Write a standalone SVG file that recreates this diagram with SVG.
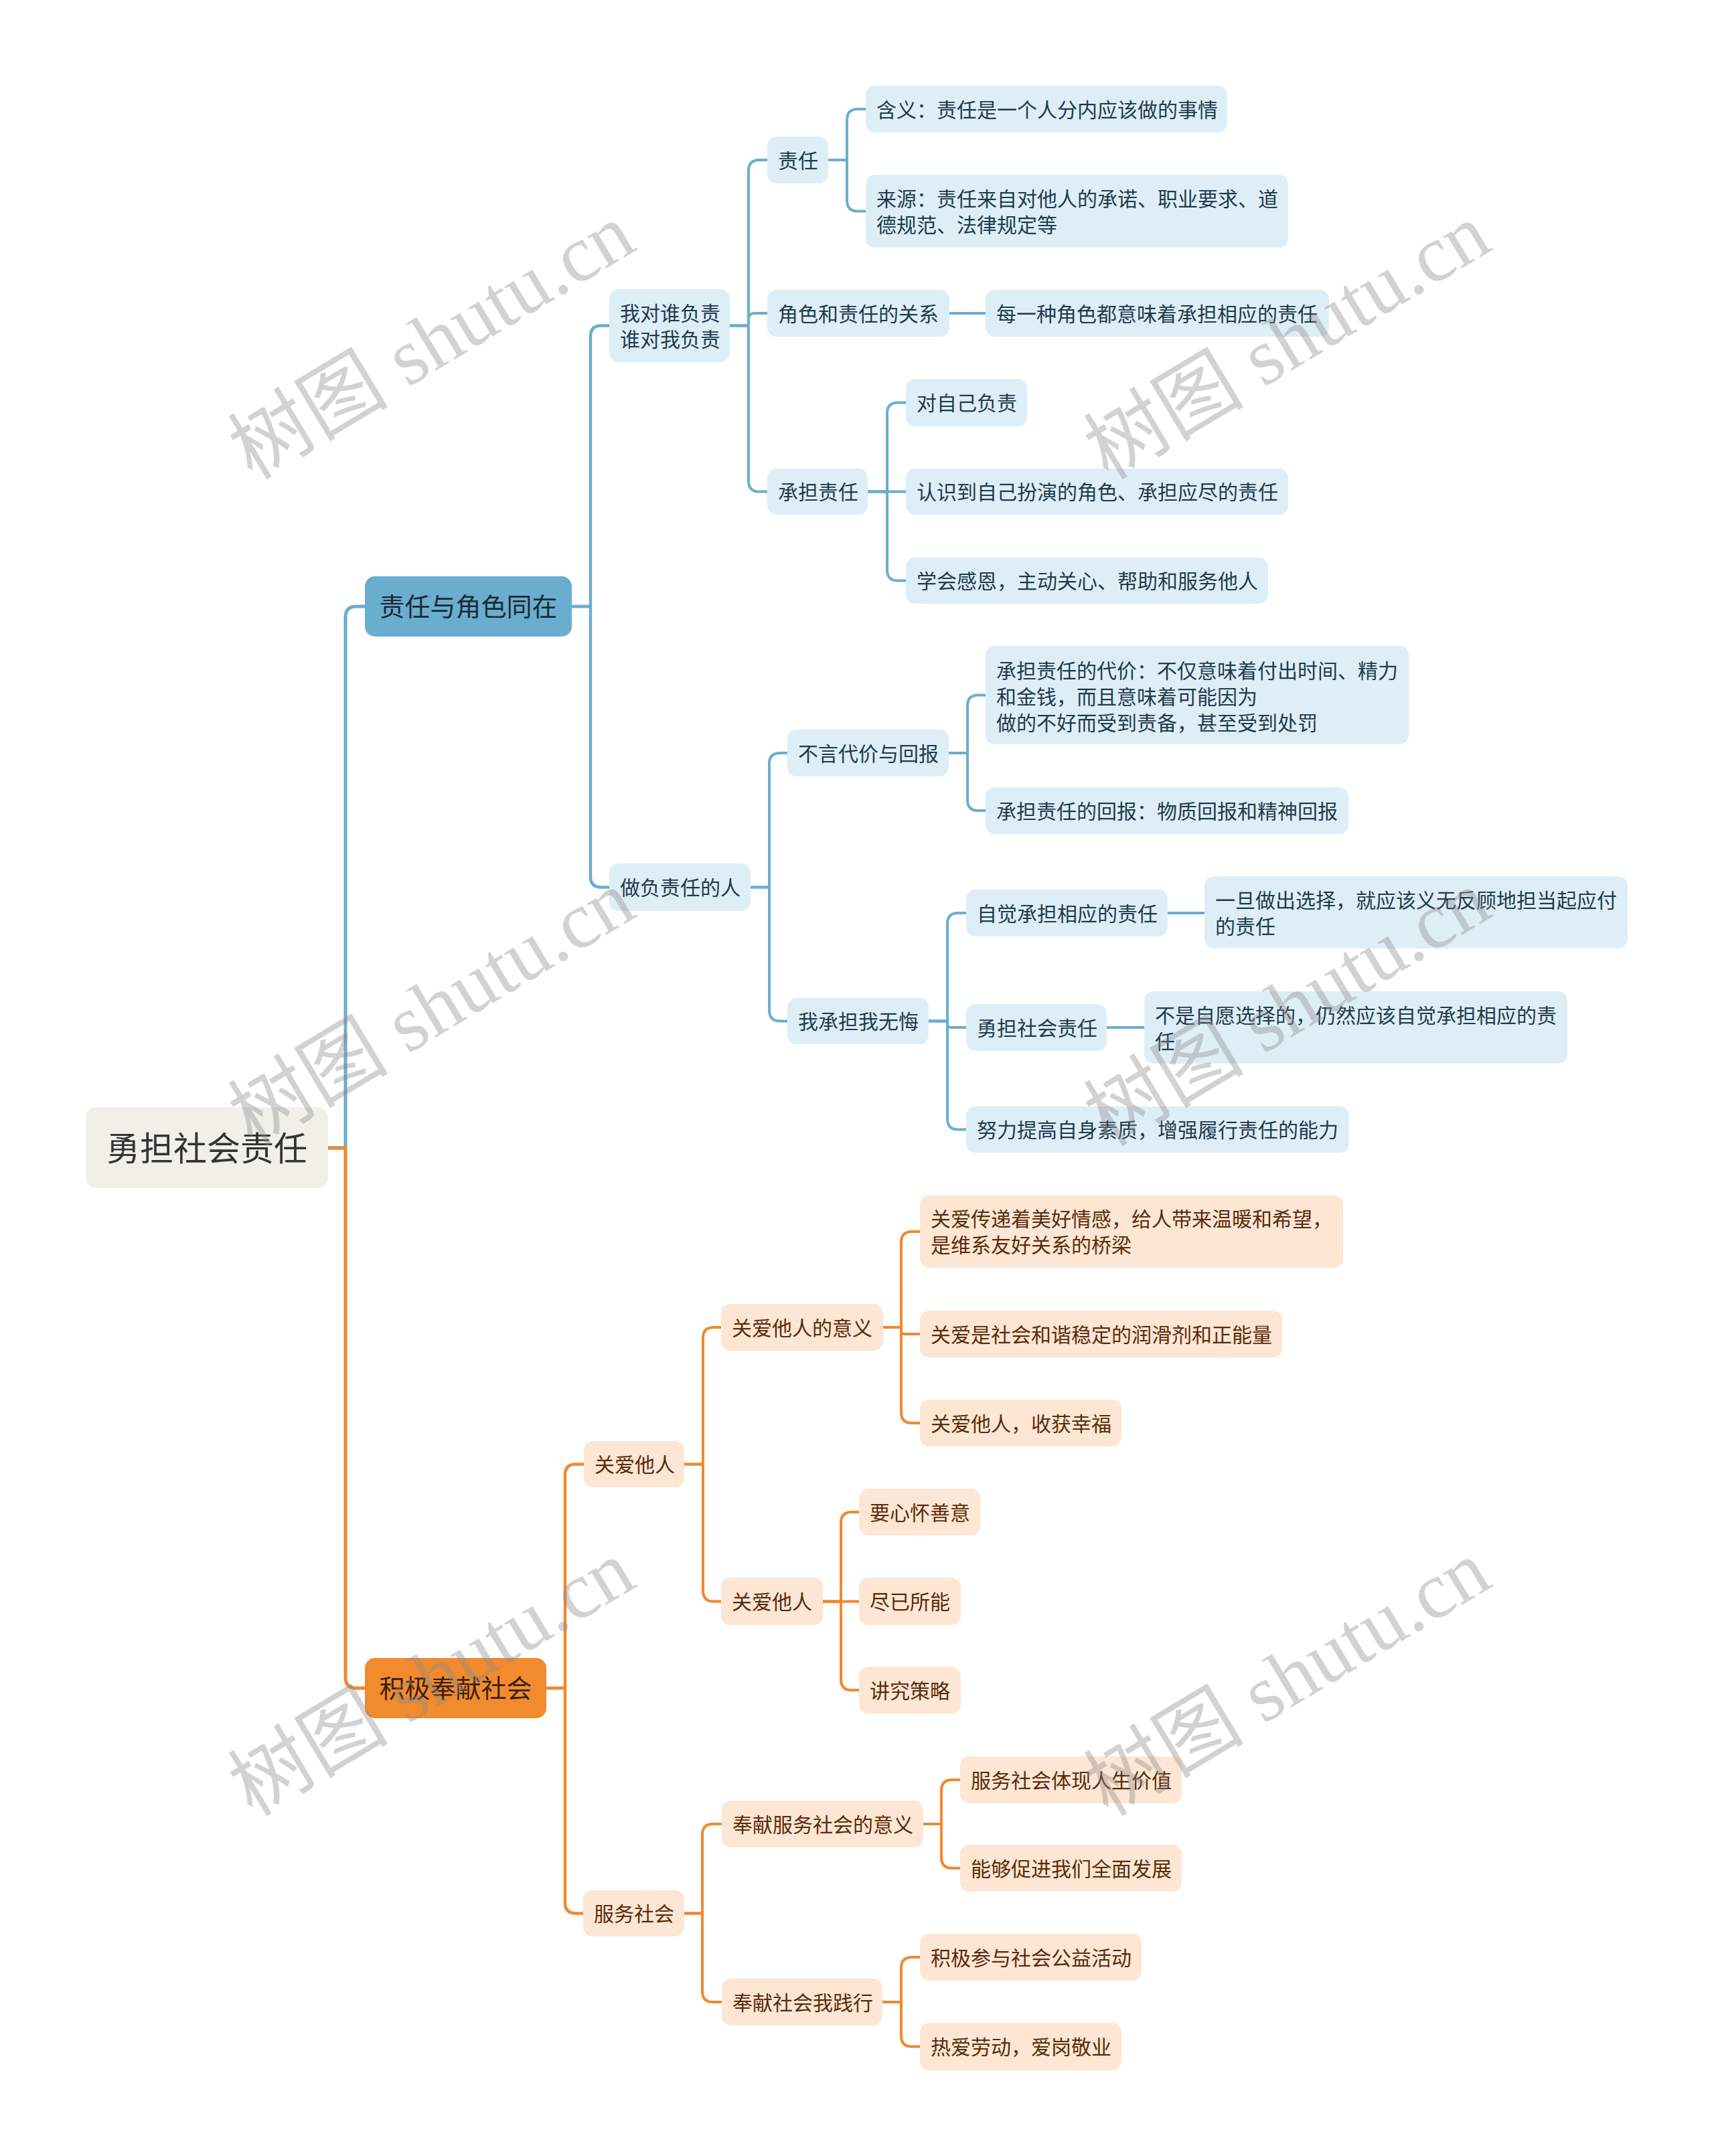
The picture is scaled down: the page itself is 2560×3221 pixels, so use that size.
<svg xmlns="http://www.w3.org/2000/svg" width="2560" height="3221" viewBox="0 0 2560 3221">
<style>
text{font-family:"Noto Sans CJK SC","Noto Sans",sans-serif;}
.b{fill:none;stroke:#6aaecf;stroke-width:4;stroke-linecap:round;stroke-linejoin:round;}
.o{fill:none;stroke:#f0892d;stroke-width:4;stroke-linecap:round;stroke-linejoin:round;}
.w5{stroke-width:5;}
.w45{stroke-width:4.5;}
.nb rect{fill:#deeef7;}
.nb text{fill:#1e3b4c;font-size:30px;}
.no rect{fill:#fde6d4;}
.no text{fill:#5a2b0b;font-size:30px;}
.l1b rect{fill:#6aaecf;}
.l1b text{fill:#1b2a33;font-size:38px;}
.l1o rect{fill:#f28b2e;}
.l1o text{fill:#3a200c;font-size:38px;}
.root rect{fill:#f0f0e8;}
.root text{fill:#333333;font-size:50px;}
.wm text{font-family:"Liberation Serif","Noto Sans CJK SC",serif;font-size:120px;fill:#8a8a8a;opacity:0.38;}
</style>
<rect width="2560" height="3221" fill="#ffffff"/>
<g id="connectors">
<path class="b w5" d="M490 1715 H516 V922 Q516 906 532 906 H545"/>
<path class="o w5" d="M490 1715 H516 V2506 Q516 2522 532 2522 H545"/>
<path class="b w45" d="M854 906 H882 V502.5 Q882 486.5 898 486.5 H910"/>
<path class="b w45" d="M854 906 H882 V1309.5 Q882 1325.5 898 1325.5 H910"/>
<path class="b" d="M1090 486.5 H1118 V255 Q1118 239 1134 239 H1146"/>
<path class="b" d="M1090 486.5 H1118 V477 Q1118 468 1127 468 H1146"/>
<path class="b" d="M1090 486.5 H1118 V718.5 Q1118 734.5 1134 734.5 H1146"/>
<path class="b" d="M1237 239 H1265 V179 Q1265 163 1281 163 H1293"/>
<path class="b" d="M1237 239 H1265 V299.5 Q1265 315.5 1281 315.5 H1293"/>
<path class="b" d="M1418 468 H1472"/>
<path class="b" d="M1296 734.5 H1325 V617.5 Q1325 601.5 1341 601.5 H1353"/>
<path class="b" d="M1296 734.5 H1353"/>
<path class="b" d="M1296 734.5 H1325 V851.5 Q1325 867.5 1341 867.5 H1353"/>
<path class="b" d="M1121 1325.5 H1149 V1141 Q1149 1125 1165 1125 H1176"/>
<path class="b" d="M1121 1325.5 H1149 V1509.5 Q1149 1525.5 1165 1525.5 H1176"/>
<path class="b" d="M1417 1125 H1445 V1054.5 Q1445 1038.5 1461 1038.5 H1472"/>
<path class="b" d="M1417 1125 H1445 V1195 Q1445 1211 1461 1211 H1472"/>
<path class="b" d="M1387 1525.5 H1415 V1380 Q1415 1364 1431 1364 H1443"/>
<path class="b" d="M1387 1525.5 H1415 V1530 Q1415 1535 1420 1535 H1443"/>
<path class="b" d="M1387 1525.5 H1415 V1671.5 Q1415 1687.5 1431 1687.5 H1443"/>
<path class="b" d="M1744 1364 H1799"/>
<path class="b" d="M1653 1535 H1709"/>
<path class="o w45" d="M816 2522 H844 V2203.5 Q844 2187.5 860 2187.5 H872"/>
<path class="o w45" d="M816 2522 H844 V2842.5 Q844 2858.5 860 2858.5 H871"/>
<path class="o" d="M1022 2187.5 H1050 V1999 Q1050 1983 1066 1983 H1077"/>
<path class="o" d="M1022 2187.5 H1050 V2376.5 Q1050 2392.5 1066 2392.5 H1077"/>
<path class="o" d="M1319 1983 H1346 V1856 Q1346 1840 1362 1840 H1374"/>
<path class="o" d="M1319 1983 H1346 V1988 Q1346 1993 1351 1993 H1374"/>
<path class="o" d="M1319 1983 H1346 V2110 Q1346 2126 1362 2126 H1374"/>
<path class="o" d="M1229 2392.5 H1256 V2275 Q1256 2259 1272 2259 H1283"/>
<path class="o" d="M1229 2392.5 H1283"/>
<path class="o" d="M1229 2392.5 H1256 V2509 Q1256 2525 1272 2525 H1283"/>
<path class="o" d="M1022 2858.5 H1049 V2741 Q1049 2725 1065 2725 H1078"/>
<path class="o" d="M1022 2858.5 H1049 V2975 Q1049 2991 1065 2991 H1078"/>
<path class="o" d="M1379 2725 H1406 V2675 Q1406 2659 1422 2659 H1434"/>
<path class="o" d="M1379 2725 H1406 V2775 Q1406 2791 1422 2791 H1434"/>
<path class="o" d="M1318 2991 H1346 V2940 Q1346 2924 1362 2924 H1374"/>
<path class="o" d="M1318 2991 H1346 V3041.5 Q1346 3057.5 1362 3057.5 H1374"/>
</g>
<g id="root" class="root"><rect x="128" y="1654" width="362" height="121" rx="16"/><text x="309" y="1734" text-anchor="middle">勇担社会责任</text></g>
<g id="n-zrjs" class="l1b"><rect x="545" y="861" width="309" height="90" rx="15"/><text x="699.5" y="920" text-anchor="middle">责任与角色同在</text></g>
<g id="n-jjfx" class="l1o"><rect x="545" y="2477" width="271" height="90" rx="15"/><text x="680.5" y="2536" text-anchor="middle">积极奉献社会</text></g>
<g id="n-wdsfz" class="nb"><rect x="910" y="432" width="180" height="109" rx="14"/><text x="926" y="478.5">我对谁负责</text><text x="926" y="517.5">谁对我负责</text></g>
<g id="n-zfzr" class="nb"><rect x="910" y="1290" width="211" height="71" rx="14"/><text x="926" y="1337">做负责任的人</text></g>
<g id="n-zr" class="nb"><rect x="1146" y="204" width="91" height="70" rx="14"/><text x="1162" y="250.5">责任</text></g>
<g id="n-hy" class="nb"><rect x="1293" y="128" width="540" height="70" rx="14"/><text x="1309" y="174.5">含义：责任是一个人分内应该做的事情</text></g>
<g id="n-ly" class="nb"><rect x="1293" y="261" width="631" height="109" rx="14"/><text x="1309" y="308">来源：责任来自对他人的承诺、职业要求、道</text><text x="1309" y="347">德规范、法律规定等</text></g>
<g id="n-jszr" class="nb"><rect x="1146" y="433" width="272" height="70" rx="14"/><text x="1162" y="479.5">角色和责任的关系</text></g>
<g id="n-myz" class="nb"><rect x="1472" y="433" width="513" height="70" rx="14"/><text x="1488" y="479.5">每一种角色都意味着承担相应的责任</text></g>
<g id="n-cdzr" class="nb"><rect x="1146" y="700" width="150" height="69" rx="14"/><text x="1162" y="746">承担责任</text></g>
<g id="n-dzj" class="nb"><rect x="1353" y="566" width="181" height="71" rx="14"/><text x="1369" y="613">对自己负责</text></g>
<g id="n-rsd" class="nb"><rect x="1353" y="700" width="571" height="69" rx="14"/><text x="1369" y="746">认识到自己扮演的角色、承担应尽的责任</text></g>
<g id="n-xhge" class="nb"><rect x="1353" y="833" width="541" height="69" rx="14"/><text x="1369" y="879">学会感恩，主动关心、帮助和服务他人</text></g>
<g id="n-bydj" class="nb"><rect x="1176" y="1090" width="241" height="70" rx="14"/><text x="1192" y="1136.5">不言代价与回报</text></g>
<g id="n-dj" class="nb"><rect x="1472" y="965" width="632" height="147" rx="14"/><text x="1488" y="1013">承担责任的代价：不仅意味着付出时间、精力</text><text x="1488" y="1052">和金钱，而且意味着可能因为</text><text x="1488" y="1091">做的不好而受到责备，甚至受到处罚</text></g>
<g id="n-hb" class="nb"><rect x="1472" y="1176" width="542" height="70" rx="14"/><text x="1488" y="1222.5">承担责任的回报：物质回报和精神回报</text></g>
<g id="n-wcd" class="nb"><rect x="1176" y="1491" width="211" height="69" rx="14"/><text x="1192" y="1537">我承担我无悔</text></g>
<g id="n-zj" class="nb"><rect x="1443" y="1329" width="301" height="70" rx="14"/><text x="1459" y="1375.5">自觉承担相应的责任</text></g>
<g id="n-ydxz" class="nb"><rect x="1799" y="1309" width="632" height="108" rx="14"/><text x="1815" y="1356">一旦做出选择，就应该义无反顾地担当起应付</text><text x="1815" y="1395">的责任</text></g>
<g id="n-ydsh" class="nb"><rect x="1443" y="1500" width="210" height="70" rx="14"/><text x="1459" y="1546.5">勇担社会责任</text></g>
<g id="n-bszy" class="nb"><rect x="1709" y="1481" width="632" height="108" rx="14"/><text x="1725" y="1528">不是自愿选择的，仍然应该自觉承担相应的责</text><text x="1725" y="1567">任</text></g>
<g id="n-nltg" class="nb"><rect x="1443" y="1653" width="572" height="69" rx="14"/><text x="1459" y="1699">努力提高自身素质，增强履行责任的能力</text></g>
<g id="n-gatr" class="no"><rect x="872" y="2153" width="150" height="69" rx="14"/><text x="888" y="2199">关爱他人</text></g>
<g id="n-fwsh" class="no"><rect x="871" y="2824" width="151" height="69" rx="14"/><text x="887" y="2870">服务社会</text></g>
<g id="n-gayy" class="no"><rect x="1077" y="1948" width="242" height="70" rx="14"/><text x="1093" y="1994.5">关爱他人的意义</text></g>
<g id="n-gacd" class="no"><rect x="1374" y="1786" width="632" height="108" rx="14"/><text x="1390" y="1832">关爱传递着美好情感，给人带来温暖和希望，</text><text x="1390" y="1871">是维系友好关系的桥梁</text></g>
<g id="n-gash" class="no"><rect x="1374" y="1958" width="541" height="70" rx="14"/><text x="1390" y="2004.5">关爱是社会和谐稳定的润滑剂和正能量</text></g>
<g id="n-gasx" class="no"><rect x="1374" y="2091" width="301" height="70" rx="14"/><text x="1390" y="2137.5">关爱他人，收获幸福</text></g>
<g id="n-gatr2" class="no"><rect x="1077" y="2357" width="152" height="71" rx="14"/><text x="1093" y="2404">关爱他人</text></g>
<g id="n-yxh" class="no"><rect x="1283" y="2224" width="181" height="70" rx="14"/><text x="1299" y="2270.5">要心怀善意</text></g>
<g id="n-jysn" class="no"><rect x="1283" y="2357" width="152" height="71" rx="14"/><text x="1299" y="2404">尽已所能</text></g>
<g id="n-jjcl" class="no"><rect x="1283" y="2490" width="152" height="70" rx="14"/><text x="1299" y="2536.5">讲究策略</text></g>
<g id="n-fxyy" class="no"><rect x="1078" y="2690" width="301" height="70" rx="14"/><text x="1094" y="2736.5">奉献服务社会的意义</text></g>
<g id="n-fwtx" class="no"><rect x="1434" y="2624" width="331" height="70" rx="14"/><text x="1450" y="2670.5">服务社会体现人生价值</text></g>
<g id="n-ngcj" class="no"><rect x="1434" y="2756" width="331" height="70" rx="14"/><text x="1450" y="2802.5">能够促进我们全面发展</text></g>
<g id="n-fxjx" class="no"><rect x="1078" y="2956" width="240" height="70" rx="14"/><text x="1094" y="3002.5">奉献社会我践行</text></g>
<g id="n-jjcy" class="no"><rect x="1374" y="2889" width="331" height="70" rx="14"/><text x="1390" y="2935.5">积极参与社会公益活动</text></g>
<g id="n-rald" class="no"><rect x="1374" y="3022" width="301" height="71" rx="14"/><text x="1390" y="3069">热爱劳动，爱岗敬业</text></g>
<g id="watermark" class="wm">
<text x="647" y="550" text-anchor="middle" transform="rotate(-31 647 514)">树图 shutu.cn</text>
<text x="1925" y="550" text-anchor="middle" transform="rotate(-31 1925 514)">树图 shutu.cn</text>
<text x="647" y="1546" text-anchor="middle" transform="rotate(-31 647 1510)">树图 shutu.cn</text>
<text x="1925" y="1546" text-anchor="middle" transform="rotate(-31 1925 1510)">树图 shutu.cn</text>
<text x="647" y="2547" text-anchor="middle" transform="rotate(-31 647 2511)">树图 shutu.cn</text>
<text x="1925" y="2547" text-anchor="middle" transform="rotate(-31 1925 2511)">树图 shutu.cn</text>
</g>
</svg>
